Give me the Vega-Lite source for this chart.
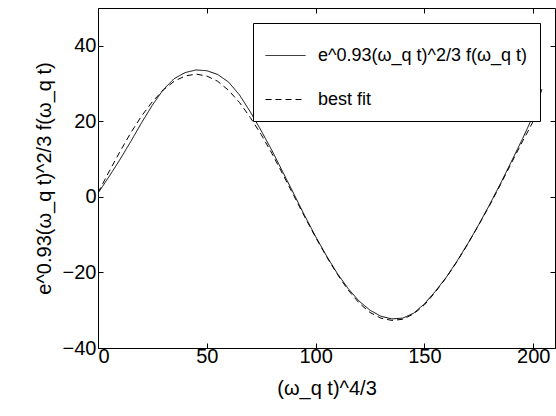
{
  "$schema": "https://vega.github.io/schema/vega-lite/v6.json",
  "width": 457,
  "height": 340,
  "autosize": "none",
  "padding": {"left": 98, "top": 8, "right": 1, "bottom": 68},
  "background": "white",
  "config": {
    "font": "Liberation Sans",
    "view": {"stroke": "black", "strokeWidth": 1},
    "axis": {
      "grid": false,
      "domain": false,
      "tickColor": "black",
      "tickSize": -5,
      "labelColor": "black",
      "labelFontSize": 20,
      "labelFont": "Liberation Sans",
      "labelPadding": 3,
      "titleFont": "Liberation Sans",
      "titleFontSize": 20,
      "titleFontWeight": "normal",
      "titleColor": "black"
    },
    "legend": {
      "labelFont": "Liberation Sans"
    }
  },
  "data": {
    "values": [
      {"x": 0, "y": 1, "series": "e^0.93(ω_q t)^2/3 f(ω_q t)"},
      {"x": 5, "y": 5.3, "series": "e^0.93(ω_q t)^2/3 f(ω_q t)"},
      {"x": 10, "y": 9.8, "series": "e^0.93(ω_q t)^2/3 f(ω_q t)"},
      {"x": 15, "y": 14.6, "series": "e^0.93(ω_q t)^2/3 f(ω_q t)"},
      {"x": 20, "y": 19.6, "series": "e^0.93(ω_q t)^2/3 f(ω_q t)"},
      {"x": 25, "y": 24.3, "series": "e^0.93(ω_q t)^2/3 f(ω_q t)"},
      {"x": 30, "y": 28.4, "series": "e^0.93(ω_q t)^2/3 f(ω_q t)"},
      {"x": 35, "y": 31.3, "series": "e^0.93(ω_q t)^2/3 f(ω_q t)"},
      {"x": 40, "y": 32.9, "series": "e^0.93(ω_q t)^2/3 f(ω_q t)"},
      {"x": 45, "y": 33.6, "series": "e^0.93(ω_q t)^2/3 f(ω_q t)"},
      {"x": 50, "y": 33.4, "series": "e^0.93(ω_q t)^2/3 f(ω_q t)"},
      {"x": 55, "y": 32.4, "series": "e^0.93(ω_q t)^2/3 f(ω_q t)"},
      {"x": 60, "y": 30.4, "series": "e^0.93(ω_q t)^2/3 f(ω_q t)"},
      {"x": 65, "y": 27, "series": "e^0.93(ω_q t)^2/3 f(ω_q t)"},
      {"x": 70, "y": 22.5, "series": "e^0.93(ω_q t)^2/3 f(ω_q t)"},
      {"x": 75, "y": 17.5, "series": "e^0.93(ω_q t)^2/3 f(ω_q t)"},
      {"x": 80, "y": 12.2, "series": "e^0.93(ω_q t)^2/3 f(ω_q t)"},
      {"x": 85, "y": 6.5, "series": "e^0.93(ω_q t)^2/3 f(ω_q t)"},
      {"x": 90, "y": 0.8, "series": "e^0.93(ω_q t)^2/3 f(ω_q t)"},
      {"x": 95, "y": -5, "series": "e^0.93(ω_q t)^2/3 f(ω_q t)"},
      {"x": 100, "y": -10.5, "series": "e^0.93(ω_q t)^2/3 f(ω_q t)"},
      {"x": 105, "y": -15.6, "series": "e^0.93(ω_q t)^2/3 f(ω_q t)"},
      {"x": 110, "y": -20.3, "series": "e^0.93(ω_q t)^2/3 f(ω_q t)"},
      {"x": 115, "y": -24.3, "series": "e^0.93(ω_q t)^2/3 f(ω_q t)"},
      {"x": 120, "y": -27.6, "series": "e^0.93(ω_q t)^2/3 f(ω_q t)"},
      {"x": 125, "y": -30, "series": "e^0.93(ω_q t)^2/3 f(ω_q t)"},
      {"x": 130, "y": -31.6, "series": "e^0.93(ω_q t)^2/3 f(ω_q t)"},
      {"x": 135, "y": -32.3, "series": "e^0.93(ω_q t)^2/3 f(ω_q t)"},
      {"x": 140, "y": -32.1, "series": "e^0.93(ω_q t)^2/3 f(ω_q t)"},
      {"x": 145, "y": -30.8, "series": "e^0.93(ω_q t)^2/3 f(ω_q t)"},
      {"x": 150, "y": -28.3, "series": "e^0.93(ω_q t)^2/3 f(ω_q t)"},
      {"x": 155, "y": -25, "series": "e^0.93(ω_q t)^2/3 f(ω_q t)"},
      {"x": 160, "y": -21.3, "series": "e^0.93(ω_q t)^2/3 f(ω_q t)"},
      {"x": 165, "y": -17, "series": "e^0.93(ω_q t)^2/3 f(ω_q t)"},
      {"x": 170, "y": -12.3, "series": "e^0.93(ω_q t)^2/3 f(ω_q t)"},
      {"x": 175, "y": -7.3, "series": "e^0.93(ω_q t)^2/3 f(ω_q t)"},
      {"x": 180, "y": -2, "series": "e^0.93(ω_q t)^2/3 f(ω_q t)"},
      {"x": 185, "y": 3.6, "series": "e^0.93(ω_q t)^2/3 f(ω_q t)"},
      {"x": 190, "y": 9.4, "series": "e^0.93(ω_q t)^2/3 f(ω_q t)"},
      {"x": 195, "y": 15.3, "series": "e^0.93(ω_q t)^2/3 f(ω_q t)"},
      {"x": 200, "y": 21.5, "series": "e^0.93(ω_q t)^2/3 f(ω_q t)"},
      {"x": 204, "y": 28.5, "series": "e^0.93(ω_q t)^2/3 f(ω_q t)"},
      {"x": 0, "y": 1.1, "series": "best fit"},
      {"x": 5, "y": 6.6, "series": "best fit"},
      {"x": 10, "y": 11.9, "series": "best fit"},
      {"x": 15, "y": 16.9, "series": "best fit"},
      {"x": 20, "y": 21.4, "series": "best fit"},
      {"x": 25, "y": 25.2, "series": "best fit"},
      {"x": 30, "y": 28.3, "series": "best fit"},
      {"x": 35, "y": 30.6, "series": "best fit"},
      {"x": 40, "y": 32, "series": "best fit"},
      {"x": 45, "y": 32.5, "series": "best fit"},
      {"x": 50, "y": 32, "series": "best fit"},
      {"x": 55, "y": 30.6, "series": "best fit"},
      {"x": 60, "y": 28.2, "series": "best fit"},
      {"x": 65, "y": 25, "series": "best fit"},
      {"x": 70, "y": 21, "series": "best fit"},
      {"x": 75, "y": 16.5, "series": "best fit"},
      {"x": 80, "y": 11.4, "series": "best fit"},
      {"x": 85, "y": 5.9, "series": "best fit"},
      {"x": 90, "y": 0.3, "series": "best fit"},
      {"x": 95, "y": -5.3, "series": "best fit"},
      {"x": 100, "y": -10.7, "series": "best fit"},
      {"x": 105, "y": -15.8, "series": "best fit"},
      {"x": 110, "y": -20.5, "series": "best fit"},
      {"x": 115, "y": -24.7, "series": "best fit"},
      {"x": 120, "y": -28.1, "series": "best fit"},
      {"x": 125, "y": -30.6, "series": "best fit"},
      {"x": 130, "y": -32.1, "series": "best fit"},
      {"x": 135, "y": -32.7, "series": "best fit"},
      {"x": 140, "y": -32.4, "series": "best fit"},
      {"x": 145, "y": -31, "series": "best fit"},
      {"x": 150, "y": -28.6, "series": "best fit"},
      {"x": 155, "y": -25.2, "series": "best fit"},
      {"x": 160, "y": -21.4, "series": "best fit"},
      {"x": 165, "y": -17.1, "series": "best fit"},
      {"x": 170, "y": -12.4, "series": "best fit"},
      {"x": 175, "y": -7.4, "series": "best fit"},
      {"x": 180, "y": -2.2, "series": "best fit"},
      {"x": 185, "y": 3.3, "series": "best fit"},
      {"x": 190, "y": 9, "series": "best fit"},
      {"x": 195, "y": 14.6, "series": "best fit"},
      {"x": 200, "y": 20, "series": "best fit"},
      {"x": 203, "y": 23, "series": "best fit"}
    ]
  },
  "layer": [
    {
      "mark": {"type": "line", "color": "black", "strokeWidth": 1, "clip": true},
      "encoding": {
        "x": {
          "field": "x", "type": "quantitative",
          "scale": {"domain": [0, 210], "nice": false, "zero": false},
          "axis": {"values": [0, 50, 100, 150, 200], "title": "(ω_q t)^4/3", "titlePadding": 12, "labelPadding": 3}
        },
        "y": {
          "field": "y", "type": "quantitative",
          "scale": {"domain": [-40, 50], "nice": false, "zero": false},
          "axis": {"values": [-40, -20, 0, 20, 40], "title": "e^0.93(ω_q t)^2/3 f(ω_q t)", "titlePadding": 8, "labelPadding": 7}
        },
        "strokeDash": {
          "field": "series", "type": "nominal",
          "scale": {"domain": ["e^0.93(ω_q t)^2/3 f(ω_q t)", "best fit"], "range": [[1, 0], [6, 4]]},
          "legend": {
            "title": null,
            "orient": "top-right",
            "offset": 15,
            "fillColor": "white",
            "strokeColor": "black",
            "padding": 12,
            "symbolType": "stroke",
            "symbolSize": 1600,
            "symbolStrokeWidth": 1,
            "symbolStrokeColor": "black",
            "labelFontSize": 18,
            "labelColor": "black",
            "labelOffset": 12,
            "rowPadding": 14,
            "labelLimit": 400
          }
        }
      }
    },
    {
      "mark": {"type": "point", "opacity": 0},
      "encoding": {
        "x": {
          "field": "x", "type": "quantitative",
          "scale": {"domain": [0, 210], "nice": false, "zero": false},
          "axis": {"orient": "top", "values": [0, 50, 100, 150, 200], "labels": false, "title": null}
        },
        "y": {
          "field": "y", "type": "quantitative",
          "scale": {"domain": [-40, 50], "nice": false, "zero": false},
          "axis": {"orient": "right", "values": [-40, -20, 0, 20, 40], "labels": false, "title": null}
        }
      }
    }
  ],
  "resolve": {"axis": {"x": "independent", "y": "independent"}}
}
